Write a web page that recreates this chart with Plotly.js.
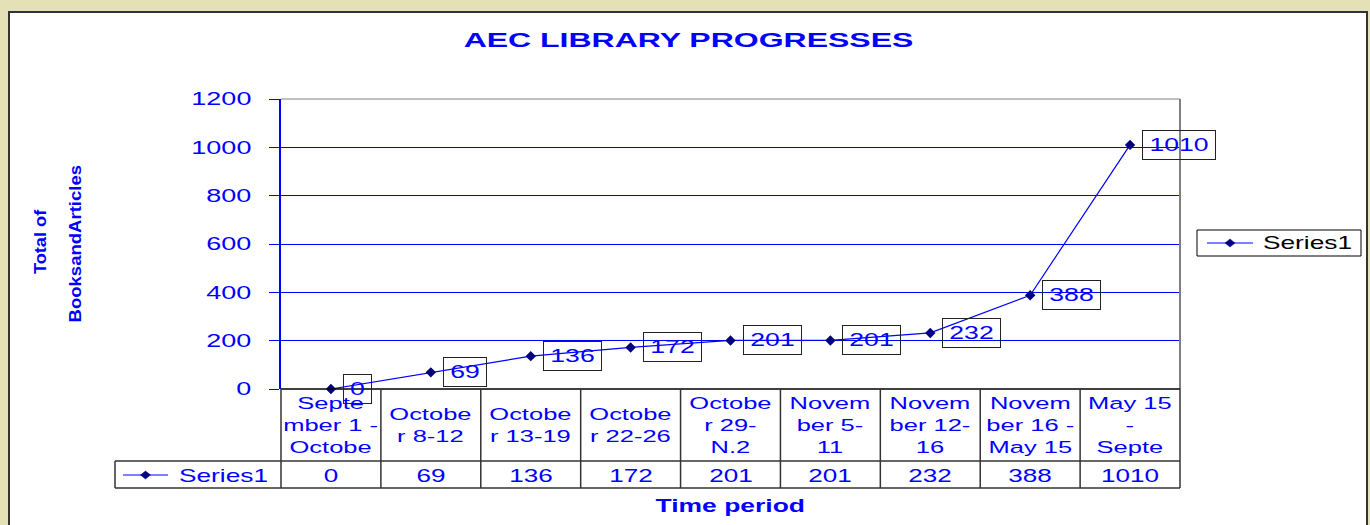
<!DOCTYPE html>
<html>
<head>
<meta charset="utf-8">
<script src="https://cdn.plot.ly/plotly-3.0.1.min.js"></script>
<style>
html,body{margin:0;padding:0;background:#e3e1b5;}
#chart{width:1370px;height:525px;}
.gtitle{transform-box:fill-box;transform-origin:center;transform:scaleX(1.6);}
</style>
</head>
<body>
<div id="chart"></div>
<script>
// ---- data ----
const categories = [
  "Septe<br>mber 1 -<br>Octobe",
  "Octobe<br>r 8-12",
  "Octobe<br>r 13-19",
  "Octobe<br>r 22-26",
  "Octobe<br>r 29-<br>N.2",
  "Novem<br>ber 5-<br>11",
  "Novem<br>ber 12-<br>16",
  "Novem<br>ber 16 -<br>May 15",
  "May 15<br>-<br>Septe"
];
const values = [0, 69, 136, 172, 201, 201, 232, 388, 1010];
const yTicks = [0, 200, 400, 600, 800, 1000, 1200];
const seriesName = "Series1";
const chartTitle = "AEC LIBRARY PROGRESSES";
const xTitle = "Time period";
const yTitleLines = ["Total of", "BooksandArticles"];

// ---- geometry helpers (pixel -> paper) ----
const W = 1370, H = 525, L = 281, R = 1180, T = 99, B = 389;
const px = x => (x - L) / (R - L);
const py = y => (B - y) / (B - T);
const BLUE = '#0000ff', NAVY = '#000080', FONT = 'Liberation Sans, Arial, sans-serif';

const traces = [{
  type: 'scatter', mode: 'lines+markers',
  x: categories, y: values, name: seriesName,
  line: {color: BLUE, width: 1.2},
  marker: {symbol: 'diamond', size: 8, color: NAVY},
  cliponaxis: false, showlegend: false
}];

const shapes = [];
// white chart panel with dark frame
shapes.push({type: 'rect', xref: 'paper', yref: 'paper', x0: px(9), x1: px(1367), y0: py(560), y1: py(12),
  fillcolor: '#ffffff', line: {color: '#333333', width: 2}, layer: 'below'});
// plot area border (top / right)
shapes.push({type: 'line', xref: 'paper', yref: 'paper', x0: 0, x1: 1, y0: 1, y1: 1, line: {color: '#808080', width: 1}});
shapes.push({type: 'line', xref: 'paper', yref: 'paper', x0: 1, x1: 1, y0: 0, y1: 1, line: {color: '#808080', width: 2}});
// data table
const TL = '#333333';
shapes.push({type: 'line', xref: 'paper', yref: 'paper', x0: 0, x1: 1, y0: 0, y1: 0, line: {color: '#000', width: 1.5}});
shapes.push({type: 'line', xref: 'paper', yref: 'paper', x0: px(115), x1: 1, y0: py(461), y1: py(461), line: {color: TL, width: 1.5}});
shapes.push({type: 'line', xref: 'paper', yref: 'paper', x0: px(115), x1: 1, y0: py(488), y1: py(488), line: {color: TL, width: 1.5}});
shapes.push({type: 'line', xref: 'paper', yref: 'paper', x0: px(115), x1: px(115), y0: py(461), y1: py(488), line: {color: TL, width: 1.5}});
shapes.push({type: 'line', xref: 'paper', yref: 'paper', x0: 0, x1: 0, y0: 0, y1: py(488), line: {color: TL, width: 1.5}});
shapes.push({type: 'line', xref: 'paper', yref: 'paper', x0: 1, x1: 1, y0: 0, y1: py(488), line: {color: TL, width: 1.5}});
for (let i = 1; i < categories.length; i++) {
  shapes.push({type: 'line', xref: 'x', yref: 'paper', x0: i - 0.5, x1: i - 0.5, y0: 0, y1: py(488), line: {color: TL, width: 1.5}});
}
// legend keys (line + diamond), right legend and table legend
function legendKey(x0, x1, y) {
  const xm = (x0 + x1) / 2;
  shapes.push({type: 'line', xref: 'paper', yref: 'paper', x0: px(x0), x1: px(x1), y0: py(y), y1: py(y), line: {color: BLUE, width: 1.2}});
  shapes.push({type: 'path', xref: 'paper', yref: 'paper',
    path: `M${px(xm - 5)},${py(y)} L${px(xm)},${py(y - 4)} L${px(xm + 5)},${py(y)} L${px(xm)},${py(y + 4)} Z`,
    fillcolor: NAVY, line: {color: NAVY, width: 0.5}});
}
shapes.push({type: 'rect', xref: 'paper', yref: 'paper', x0: px(1197), x1: px(1361), y0: py(256), y1: py(230),
  fillcolor: '#ffffff', line: {color: '#000', width: 1}});
legendKey(1207, 1253, 243);
legendKey(123, 168, 475);

const annotations = [];
const stretch = [];   // horizontal text stretch per annotation [scale, origin]
function addAnn(a, s, origin) { annotations.push(a); stretch.push([s, origin || 'center']); }

// data labels
values.forEach((v, i) => addAnn({
  xref: 'x', yref: 'y', x: categories[i], y: v, xanchor: 'left', yanchor: 'middle', xshift: 12,
  text: String(v), showarrow: false, bordercolor: '#222', borderwidth: 1, borderpad: 2,
  width: 15 * String(v).length + 8, height: 24, align: 'center',
  font: {family: FONT, size: 19, color: BLUE}
}, 1.4));
// table category row
categories.forEach((c, i) => addAnn({
  xref: 'x', yref: 'paper', x: c, y: py(425), xanchor: 'center', yanchor: 'middle',
  text: c, showarrow: false, font: {family: FONT, size: 17, color: BLUE}
}, 1.5));
// table value row
values.forEach((v, i) => addAnn({
  xref: 'x', yref: 'paper', x: categories[i], y: py(476), xanchor: 'center', yanchor: 'middle',
  text: String(v), showarrow: false, font: {family: FONT, size: 18, color: BLUE}
}, 1.45));
// legend labels
addAnn({xref: 'paper', yref: 'paper', x: px(1261), y: py(243), xanchor: 'left', yanchor: 'middle',
  text: seriesName, showarrow: false, font: {family: FONT, size: 18, color: '#000'}}, 1.46, 'left center');
addAnn({xref: 'paper', yref: 'paper', x: px(177), y: py(476), xanchor: 'left', yanchor: 'middle',
  text: seriesName, showarrow: false, font: {family: FONT, size: 18, color: BLUE}}, 1.46, 'left center');
// x title
addAnn({xref: 'paper', yref: 'paper', x: px(730), y: py(505), xanchor: 'center', yanchor: 'middle',
  text: xTitle, showarrow: false, font: {family: FONT, size: 18.5, color: BLUE, weight: 'bold'}}, 1.43);
// y title (two rotated lines)
addAnn({xref: 'paper', yref: 'paper', x: px(40), y: py(242), xanchor: 'center', yanchor: 'middle', textangle: -90,
  text: yTitleLines[0], showarrow: false, font: {family: FONT, size: 17, color: BLUE, weight: 'bold'}}, 1.07);
addAnn({xref: 'paper', yref: 'paper', x: px(75), y: py(244), xanchor: 'center', yanchor: 'middle', textangle: -90,
  text: yTitleLines[1], showarrow: false, font: {family: FONT, size: 17, color: BLUE, weight: 'bold'}}, 1.09);

// per-annotation stretch rules
const css = stretch.map(([s, o], i) =>
  `.annotation[data-index="${i}"] .annotation-text{transform-box:fill-box;transform-origin:${o};transform:scaleX(${s});}`).join('\n');
const st = document.createElement('style'); st.textContent = css; document.head.appendChild(st);

const layout = {
  width: W, height: H, autosize: false,
  margin: {l: L, r: W - R, t: T, b: H - B, pad: 0},
  paper_bgcolor: '#e3e1b5', plot_bgcolor: '#c0c0c0',
  title: {text: chartTitle, xref: 'container', yref: 'container', x: 688.5 / W, xanchor: 'center',
    y: 1 - 40 / H, yanchor: 'middle', font: {family: FONT, size: 20, color: BLUE, weight: 'bold'}},
  xaxis: {type: 'category', range: [-0.5, categories.length - 0.5], showticklabels: false, ticks: '',
    showgrid: false, zeroline: false, showline: false, fixedrange: true},
  yaxis: {range: [0, 1200], tickvals: yTicks, showgrid: true, gridcolor: BLUE, gridwidth: 1,
    showline: true, linecolor: BLUE, linewidth: 2, ticks: 'outside', ticklen: 10, tickcolor: BLUE, tickwidth: 1,
    ticklabelstandoff: 14, tickfont: {family: FONT, size: 18, color: BLUE}, zeroline: false, fixedrange: true},
  showlegend: false,
  shapes: shapes,
  annotations: annotations
};

Plotly.newPlot('chart', traces, layout, {displayModeBar: false, staticPlot: true}).then(gd => {
  // stretch y tick labels horizontally about their right edge (keeps Plotly's own placement)
  gd.querySelectorAll('.ytick text').forEach(el => {
    const bb = el.getBBox();
    const xr = bb.x + bb.width;
    const orig = el.getAttribute('transform') || '';
    el.setAttribute('transform', `${orig} translate(${xr},0) scale(1.5,1) translate(${-xr},0)`);
  });
});
</script>
</body>
</html>
